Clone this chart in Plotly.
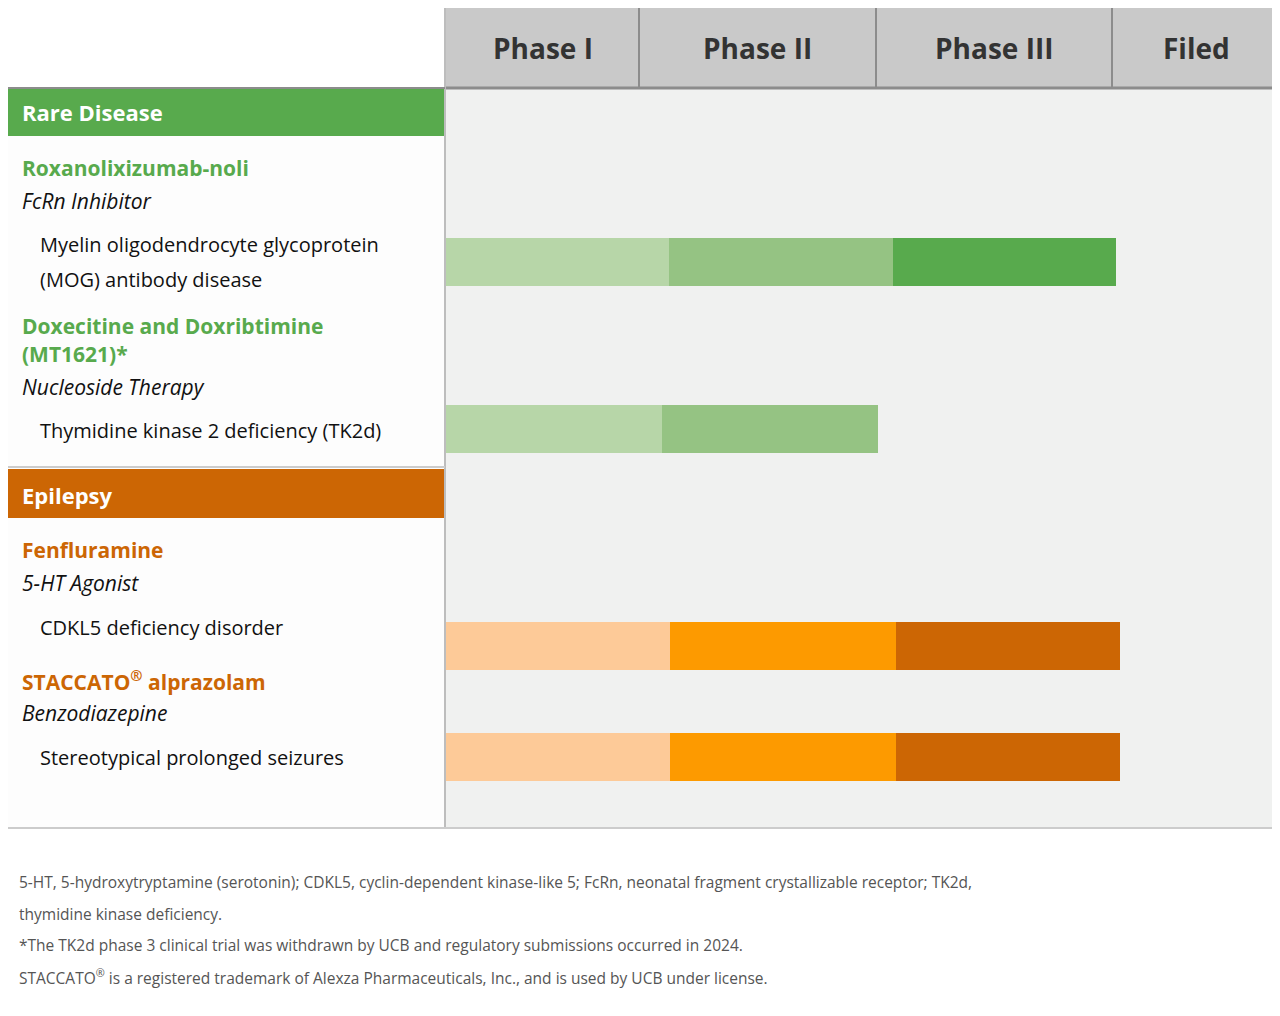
import plotly.graph_objects as go

# ---- data ----
phases = ["Phase I", "Phase II", "Phase III", "Filed"]
phase_edges = [446, 639, 876, 1112, 1280]
indications = ["Myelin oligodendrocyte glycoprotein", "Thymidine kinase 2 deficiency (TK2d)",
               "CDKL5 deficiency disorder", "Stereotypical prolonged seizures"]
bar_y = [262, 429, 646, 757]
# segment boundaries (axis units) for each program's progress bar
segments = [[446, 669, 893, 1116], [446, 662, 878], [446, 670, 896, 1120], [446, 670, 896, 1120]]
green = ["#b7d6a8", "#95c383", "#58aa4d"]
orange = ["#fdca98", "#fd9a00", "#cc6604"]
bar_colors = [green, green, orange, orange]

FONT = "Open Sans"
fig = go.Figure()
shapes = []
def rect(x0, y0, x1, y1, color, line=None):
    shapes.append(dict(type="rect", x0=x0, x1=x1, y0=y0, y1=y1, fillcolor=color,
                       line=dict(width=0) if line is None else line, layer="below"))

rect(0, 0, 1280, 1016, "white")
rect(4, 89, 445, 828, "#fdfdfd")
rect(446, 89, 1280, 828, "#f0f1f0")
for i in range(4):
    rect(phase_edges[i] + (0 if i == 0 else 1), 4, phase_edges[i + 1], 88, "#c9c9c9")
shapes.append(dict(type="line", x0=446, x1=1280, y0=88, y1=88, line=dict(color="#8c8c8c", width=3)))
for e in phase_edges[1:4]:
    shapes.append(dict(type="line", x0=e, x1=e, y0=4, y1=88, line=dict(color="#8c8c8c", width=2)))
shapes.append(dict(type="line", x0=445, x1=445, y0=4, y1=828, line=dict(color="#bdbdbd", width=2)))
shapes.append(dict(type="line", x0=4, x1=445, y0=88, y1=88, line=dict(color="#8c8c8c", width=2)))
shapes.append(dict(type="line", x0=4, x1=1280, y0=828, y1=828, line=dict(color="#cccccc", width=2)))
shapes.append(dict(type="line", x0=4, x1=445, y0=467, y1=467, line=dict(color="#cccccc", width=2)))
rect(5, 89, 445, 136, "#58aa4d")
rect(5, 469, 445, 518, "#cc6604")

for y, segs, cols in zip(bar_y, segments, bar_colors):
    for i in range(len(segs) - 1):
        fig.add_trace(go.Bar(y=[y], x=[segs[i + 1] - segs[i]], base=[segs[i]], orientation="h",
                             width=48, marker=dict(color=cols[i], line=dict(width=0)),
                             showlegend=False, hoverinfo="skip"))

ann = []
def txt(x, y, s, size=22, color="#111", bold=False, italic=False, xanchor="left"):
    if bold: s = "<b>" + s + "</b>"
    if italic: s = "<i>" + s + "</i>"
    ann.append(dict(x=x, y=y, text=s, showarrow=False, xanchor=xanchor, yanchor="middle",
                    font=dict(family=FONT, size=size, color=color)))

txt(4, 48, "Program", 27, "#111", bold=True)
for i, p in enumerate(phases):
    txt((phase_edges[i] + phase_edges[i + 1]) / 2, 48, p, 28, "#333", bold=True, xanchor="center")
txt(20, 112, "Rare Disease", 22, "white", bold=True)
txt(20, 495, "Epilepsy", 22, "white", bold=True)
G, O = "#58aa4d", "#cc6604"
txt(20, 168, "Roxanolixizumab-noli", 21, G, bold=True)
txt(20, 201, "FcRn Inhibitor", 21, italic=True)
txt(38, 244, indications[0], 20)
txt(38, 279, "(MOG) antibody disease", 20)
txt(20, 326, "Doxecitine and Doxribtimine", 21, G, bold=True)
txt(20, 354, "(MT1621)*", 21, G, bold=True)
txt(20, 387, "Nucleoside Therapy", 21, italic=True)
txt(38, 430, indications[1], 20)
txt(20, 550, "Fenfluramine", 21, O, bold=True)
txt(20, 583, "5-HT Agonist", 21, italic=True)
txt(38, 627, indications[2], 20)
txt(20, 680, "STACCATO<sup>®</sup> alprazolam", 21, O, bold=True)
txt(20, 713, "Benzodiazepine", 21, italic=True)
txt(38, 757, indications[3], 20)

foot = ["5-HT, 5-hydroxytryptamine (serotonin); CDKL5, cyclin-dependent kinase-like 5; FcRn, neonatal fragment crystallizable receptor; TK2d,",
        "thymidine kinase deficiency.",
        "*The TK2d phase 3 clinical trial was withdrawn by UCB and regulatory submissions occurred in 2024.",
        "STACCATO<sup>®</sup> is a registered trademark of Alexza Pharmaceuticals, Inc., and is used by UCB under license."]
for i, f in enumerate(foot):
    txt(17, 882 + 31.5 * i, f, 15.5, "#555")

# page body has an 8px margin: shrink the figure so axis units map to page pixels
fig.update_layout(width=1272, height=1008, margin=dict(l=0, r=0, t=0, b=0),
                  paper_bgcolor="white", plot_bgcolor="white", barmode="overlay",
                  shapes=shapes, annotations=ann,
                  xaxis=dict(range=[8, 1280], visible=False, fixedrange=True),
                  yaxis=dict(range=[1016, 8], visible=False, fixedrange=True))
fig.write_html("out.html", config={"displayModeBar": False})
